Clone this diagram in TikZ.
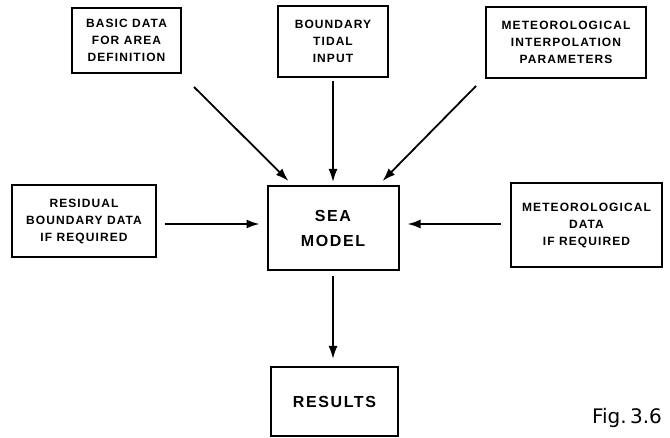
\documentclass[tikz,border=0pt]{standalone}
\usepackage{fontspec}
\usepackage{tikz}
\usetikzlibrary{positioning}
\usetikzlibrary{arrows.meta}
\usetikzlibrary{calc}

\newfontfamily\boxfont{Liberation Sans}[LetterSpace=9]
\newfontfamily\bigboxfont{Liberation Sans}[LetterSpace=10]
\newfontfamily\handfont{DejaVu Sans}

\begin{document}
\begin{tikzpicture}[x=1pt,y=-1pt,line width=2pt,
    inbox/.style={draw, align=center, inner sep=0pt,
      font=\boxfont\bfseries\fontsize{12}{17}\selectfont},
    mainbox/.style={draw, align=center, inner sep=0pt,
      font=\bigboxfont\bfseries\fontsize{16}{25}\selectfont},
    flow/.style={-{Latex[length=13pt,width=9pt]}, line width=1.8pt}]

  % frame of the page
  \useasboundingbox (0,0) rectangle (670,438);

  % input boxes along the top
  \node[inbox, minimum width=109, minimum height=65] (basic) at (126.5,40.5)
    {BASIC DATA\\FOR AREA\\DEFINITION};
  \node[inbox, minimum width=110, minimum height=71] (tidal) at (333,41.5)
    {BOUNDARY\\TIDAL\\INPUT};
  \node[inbox, minimum width=160, minimum height=71] (interp) at (566,42.5)
    {METEOROLOGICAL\\INTERPOLATION\\PARAMETERS};

  % the model and the side inputs
  \node[mainbox, minimum width=131, minimum height=84] (sea) at (333,228)
    {SEA\\MODEL};
  \node[inbox, minimum width=144, minimum height=72] (residual) at (84,221)
    {RESIDUAL\\BOUNDARY DATA\\IF REQUIRED};
  \node[inbox, minimum width=151, minimum height=84] (meteo) at (586.5,225)
    {METEOROLOGICAL\\DATA\\IF REQUIRED};

  % output
  \node[mainbox, minimum width=127, minimum height=69] (results) at (334.5,401.5)
    {RESULTS};

  % connections into the model
  \draw[flow] ([shift={(12,13)}]basic.south east) -- ([shift={(22,-4)}]sea.north west);
  \draw[flow, shorten <=3pt, shorten >=3pt] (tidal.south) -- (tidal.south |- sea.north);
  \draw[flow] ([shift={(-9,7)}]interp.south west) -- ([shift={(-17,-4)}]sea.north east);
  \draw[flow, shorten <=8pt, shorten >=7pt] ([yshift=-3pt]residual.east) -- ([yshift=-3pt]residual.east -| sea.west);
  \draw[flow, shorten <=9pt, shorten >=8pt] ([yshift=1pt]meteo.west) -- ([yshift=1pt]meteo.west -| sea.east);
  \draw[flow, shorten <=5pt, shorten >=7pt] (sea.south) -- (sea.south |- results.north);

  % figure mark
  \node[font=\handfont\fontsize{20}{20}\selectfont] (figmark) at (627,418) {Fig.\,3.6};

\end{tikzpicture}
\end{document}
